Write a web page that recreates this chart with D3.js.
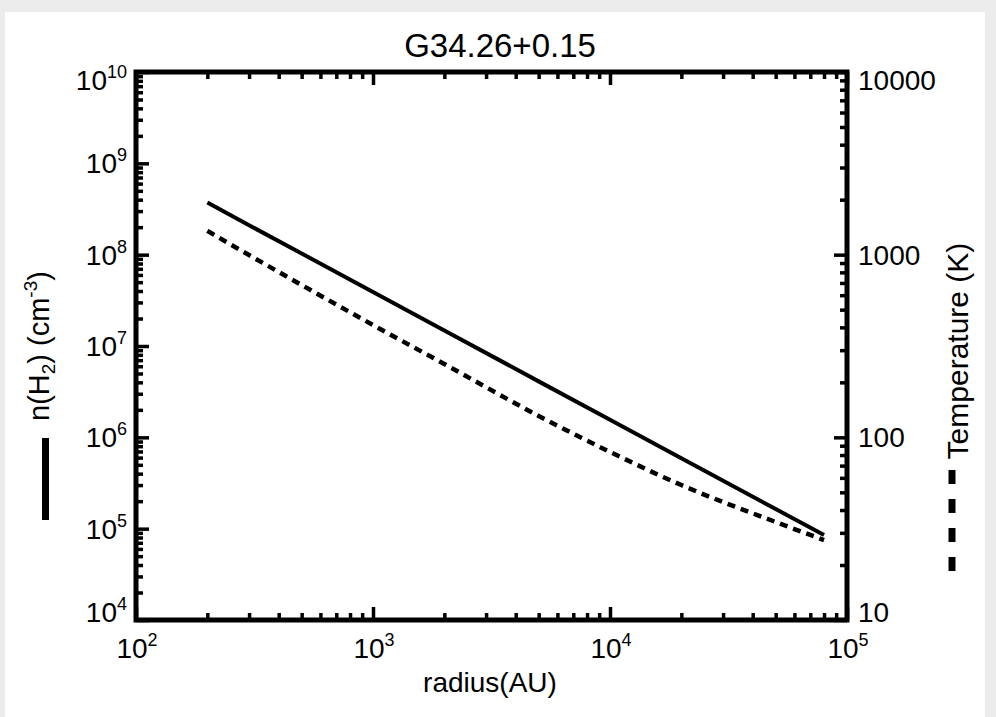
<!DOCTYPE html>
<html>
<head>
<meta charset="utf-8">
<script src="https://cdn.jsdelivr.net/npm/d3@7"></script>
<style>
  html, body { margin: 0; padding: 0; background: #ececec; }
  svg { display: block; }
</style>
</head>
<body>
<div id="chart"></div>
<script>
// values
const radius = [200, 300, 500, 1000, 2000, 5000, 10000, 20000, 50000, 80000];       // AU
const density = [3.72e8, 2.1e8, 1.03e8, 3.9e7, 1.48e7, 4.1e6, 1.56e6, 5.9e5, 1.64e5, 8.5e4]; // cm^-3
const temperature = [1350, 995, 682, 412, 252, 131, 83.2, 54.8, 34.4, 27.4];        // K

const xDecades = [2, 3, 4, 5];
const yLeftDecades = [4, 5, 6, 7, 8, 9, 10];
const yRightLabels = [10, 100, 1000, 10000];

const W = 996, H = 717;
const plot = { left: 136, right: 847, top: 72, bottom: 620 };
const FONT = '"Liberation Sans", Arial, Helvetica, sans-serif';
const INK = '#000';

const svg = d3.select('#chart').append('svg')
  .attr('width', W).attr('height', H)
  .style('font-family', FONT);

// page sheet
svg.append('rect').attr('x', 0).attr('y', 0).attr('width', W).attr('height', H).attr('fill', '#ececec');
svg.append('rect').attr('x', 5).attr('y', 12).attr('width', 980).attr('height', H - 12).attr('fill', '#fff');

const x = d3.scaleLog().domain([1e2, 1e5]).range([plot.left, plot.right]);
const yL = d3.scaleLog().domain([1e4, 1e10]).range([plot.bottom, plot.top]);
const yR = d3.scaleLog().domain([10, 10000]).range([plot.bottom, plot.top]);

const isMajor = v => Math.abs(Math.log10(v) - Math.round(Math.log10(v))) < 1e-9;

// end labels sit inside the axis span, the rest are centred on their tick
function labelBaseline(py) {
  if (py <= plot.top + 1) return py + 18;
  if (py >= plot.bottom - 1) return py + 2;
  return py + 10;
}

// data lines
const pts = radius.map((r, i) => ({ r, n: density[i], t: temperature[i] }));

svg.append('path')
  .datum(pts)
  .attr('fill', 'none')
  .attr('stroke', INK)
  .attr('stroke-width', 4)
  .attr('d', d3.line().x(d => x(d.r)).y(d => yL(d.n)));

svg.append('path')
  .datum(pts)
  .attr('fill', 'none')
  .attr('stroke', INK)
  .attr('stroke-width', 4.5)
  .attr('stroke-dasharray', '8,6')
  .attr('d', d3.line().curve(d3.curveMonotoneX).x(d => x(d.r)).y(d => yR(d.t)));

// axes: ticks pointing inward, majors longer
function styleAxis(g) {
  g.select('.domain').remove();
  g.selectAll('.tick line').attr('stroke', INK).attr('stroke-width', 3.5);
  g.selectAll('.tick text').remove();
}

const MAJ = 13, MIN = 7;

svg.append('g').attr('transform', `translate(0,${plot.bottom})`)
  .call(d3.axisTop(x).tickValues(x.ticks()).tickSize(0))
  .call(styleAxis)
  .selectAll('.tick line').attr('y2', d => isMajor(d) ? -MAJ : -MIN);

svg.append('g').attr('transform', `translate(0,${plot.top})`)
  .call(d3.axisBottom(x).tickValues(x.ticks()).tickSize(0))
  .call(styleAxis)
  .selectAll('.tick line').attr('y2', d => isMajor(d) ? MAJ : MIN);

svg.append('g').attr('transform', `translate(${plot.left},0)`)
  .call(d3.axisRight(yL).tickValues(yL.ticks()).tickSize(0))
  .call(styleAxis)
  .selectAll('.tick line').attr('x2', d => isMajor(d) ? MAJ : MIN);

svg.append('g').attr('transform', `translate(${plot.right},0)`)
  .call(d3.axisLeft(yR).tickValues(yR.ticks()).tickSize(0))
  .call(styleAxis)
  .selectAll('.tick line').attr('x2', d => isMajor(d) ? -MAJ : -MIN);

// frame
svg.append('rect')
  .attr('x', plot.left).attr('y', plot.top)
  .attr('width', plot.right - plot.left).attr('height', plot.bottom - plot.top)
  .attr('fill', 'none').attr('stroke', INK).attr('stroke-width', 5);

// tick labels with superscript exponents
const TICK_FS = 28, SUP_FS = 18;

const xl = svg.append('g');
xDecades.forEach(e => {
  const t = xl.append('text')
    .attr('x', x(Math.pow(10, e)) + 1).attr('y', plot.bottom + 38)
    .attr('text-anchor', 'middle').attr('font-size', TICK_FS).attr('fill', INK);
  t.append('tspan').text('10');
  t.append('tspan').attr('font-size', SUP_FS).attr('dy', -12).text(e);
});

const yl = svg.append('g');
yLeftDecades.forEach(e => {
  const t = yl.append('text')
    .attr('x', plot.left - 9).attr('y', labelBaseline(yL(Math.pow(10, e))))
    .attr('text-anchor', 'end').attr('font-size', TICK_FS).attr('fill', INK);
  t.append('tspan').text('10');
  t.append('tspan').attr('font-size', SUP_FS).attr('dy', -12).text(e);
});

svg.append('g').selectAll('text')
  .data(yRightLabels).join('text')
  .attr('x', plot.right + 11).attr('y', d => labelBaseline(yR(d)))
  .attr('font-size', TICK_FS).attr('fill', INK)
  .text(d => d);

// title and axis titles
svg.append('text')
  .attr('x', 500).attr('y', 57)
  .attr('text-anchor', 'middle').attr('font-size', 33).attr('fill', INK)
  .text('G34.26+0.15');

svg.append('text')
  .attr('x', 490).attr('y', 692)
  .attr('text-anchor', 'middle').attr('font-size', 28).attr('fill', INK)
  .text('radius(AU)');

const ylab = svg.append('text')
  .attr('transform', 'translate(49,346) rotate(-90)')
  .attr('text-anchor', 'middle').attr('font-size', 29).attr('fill', INK);
ylab.append('tspan').text('n(H');
ylab.append('tspan').attr('font-size', 19).attr('dy', 6).text('2');
ylab.append('tspan').attr('dy', -6).text(') (cm');
ylab.append('tspan').attr('font-size', 19).attr('dy', -12).text('-3');
ylab.append('tspan').attr('dy', 12).text(')');

svg.append('text')
  .attr('transform', 'translate(968,351) rotate(-90)')
  .attr('text-anchor', 'middle').attr('font-size', 30).attr('fill', INK)
  .text('Temperature (K)');

// line-style keys next to the axis titles
svg.append('line')
  .attr('x1', 45.5).attr('x2', 45.5).attr('y1', 438).attr('y2', 520)
  .attr('stroke', INK).attr('stroke-width', 7);

svg.append('line')
  .attr('x1', 952).attr('x2', 952).attr('y1', 470).attr('y2', 574)
  .attr('stroke', INK).attr('stroke-width', 7)
  .attr('stroke-dasharray', '14,15');
</script>
</body>
</html>
